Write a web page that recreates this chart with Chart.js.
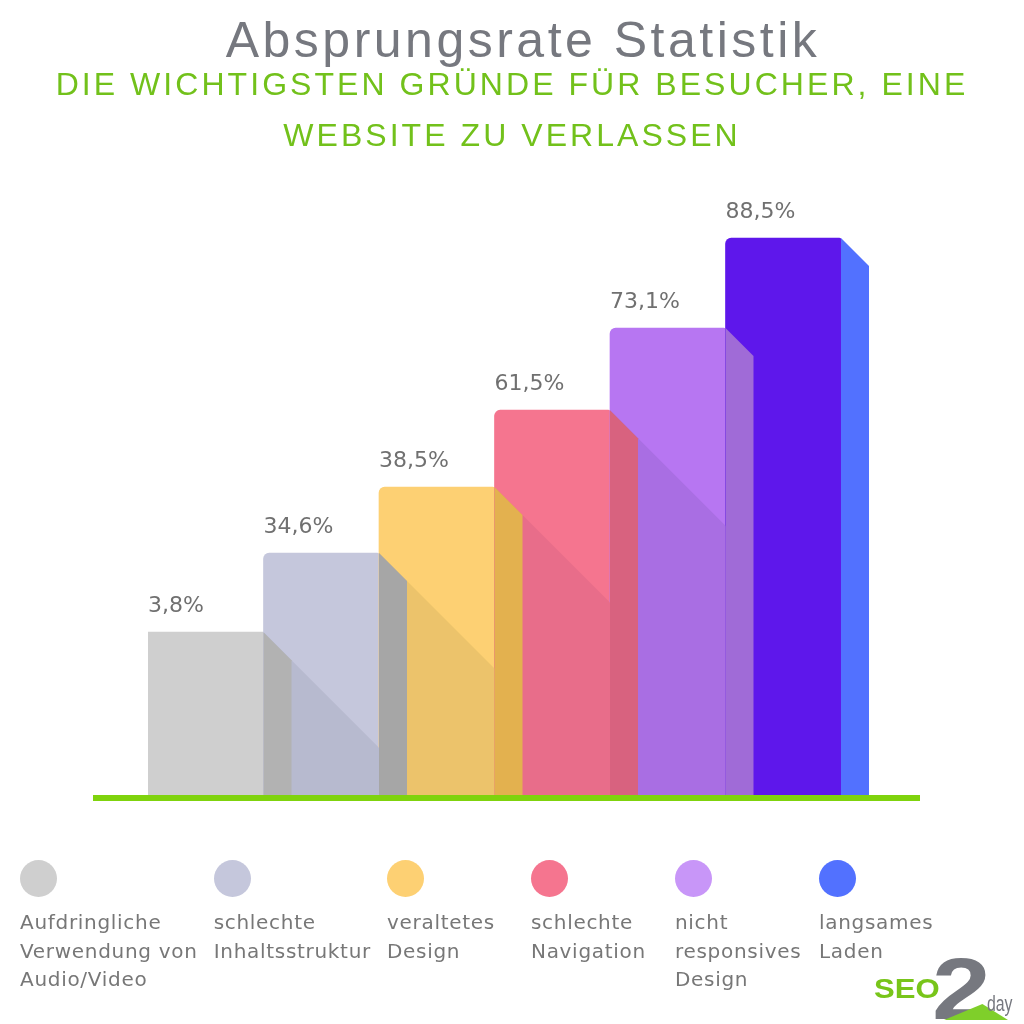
<!DOCTYPE html>
<html lang="de">
<head>
<meta charset="utf-8">
<title>Absprungsrate Statistik</title>
<script src="https://cdn.jsdelivr.net/npm/chart.js@4.4.1/dist/chart.umd.min.js"></script>
<style>
    html, body { margin: 0; padding: 0; background: #ffffff; }
    #page { position: relative; width: 1024px; height: 1024px; overflow: hidden; }
    #chart { position: absolute; left: 0; top: 0; }
    .title {
        position: absolute; left: 11px; top: 15px; width: 1024px; text-align: center;
        font-family: "Liberation Sans", Arial, sans-serif; font-size: 50px; line-height: 50px;
        letter-spacing: 3.5px; color: #76787f;
    }
    .subtitle {
        position: absolute; left: 0; top: 59px; width: 1024px; text-align: center;
        font-family: "Liberation Sans", Arial, sans-serif; font-size: 32px; line-height: 51px;
        letter-spacing: 3.05px; color: #72c11b;
    }
    #legend {
        position: absolute; left: 20px; top: 860px; display: flex;
        font-family: "DejaVu Sans", sans-serif; font-size: 20px; line-height: 28.5px;
        letter-spacing: 0.7px; color: #777777;
    }
    .legend-item { min-width: 144px; padding-right: 16px; box-sizing: border-box; }
    .legend-dot { width: 37px; height: 37px; border-radius: 50%; }
    .legend-text { margin-top: 11px; white-space: nowrap; }
    .logo { position: absolute; font-family: "Liberation Sans", Arial, sans-serif; font-weight: bold; }
    .logo-base {
        position: absolute; left: 944px; top: 1004px; width: 64px; height: 16px; background: #7fcf2a;
        clip-path: polygon(0 100%, 60% 0, 100% 100%);
    }
</style>
</head>
<body>
<div id="page">
    <canvas id="chart" width="1024" height="1024"></canvas>
    <div class="title">Absprungsrate Statistik</div>
    <div class="subtitle">DIE WICHTIGSTEN GRÜNDE FÜR BESUCHER, EINE<br>WEBSITE ZU VERLASSEN</div>
    <div id="legend"></div>
    <div class="logo" style="left:932px; top:938px; font-size:88px; color:#76787f; transform:scaleX(1.2); transform-origin:left;">2</div>
    <div class="logo-base"></div>
    <div class="logo" style="left:874px; top:974px; font-size:27px; color:#78c51a; font-weight:900; transform:scaleX(1.15); transform-origin:left;">SEO</div>
    <div class="logo" style="left:987px; top:991px; font-size:22px; color:#76787f; font-weight:normal; transform:scaleX(0.72); transform-origin:left;">day</div>
</div>

<script>
// Categories (legend lines as shown) and values
const categories = [
    ['Aufdringliche', 'Verwendung von', 'Audio/Video'],
    ['schlechte', 'Inhaltsstruktur'],
    ['veraltetes', 'Design'],
    ['schlechte', 'Navigation'],
    ['nicht', 'responsives', 'Design'],
    ['langsames', 'Laden']
];
const percentValues = [3.8, 34.6, 38.5, 61.5, 73.1, 88.5];
// The graphic does not draw bars to scale: heights (0-100 of plot height)
const barLevels = [27.3, 40.5, 51.5, 64.3, 78.0, 93.0];

// Colours
const frontColors = ['#cfcfcf', '#c5c7dc', '#fdd073', '#f5758f', '#b776f2', '#5e17eb'];
const shadowColors = [null, '#b7bacf', '#ecc36b', '#e86d8a', '#a96ee3', null];
const sideColors = ['#b2b2b2', '#a6a6a6', '#e3b14f', '#d8627f', '#a06bd7', '#5271ff'];
const legendColors = ['#cfcfcf', '#c5c7dc', '#fdd073', '#f5758f', '#c896f8', '#5271ff'];

const SIDE_DEPTH = 28;

// 3D look: shadow of the previous bar, side faces, value labels, ground line
const bar3dPlugin = {
    id: 'bar3d',
    afterDatasetsDraw(chart) {
        const ctx = chart.ctx;
        const bars = chart.getDatasetMeta(0).data;

        // shadows cast onto the front face by the bar in front
        bars.forEach((b, i) => {
            if (i === 0 || !shadowColors[i]) return;
            const left = b.x - b.width / 2;
            const t = bars[i - 1].y;
            ctx.save();
            ctx.beginPath();
            ctx.rect(left, b.y, b.width, b.base - b.y);
            ctx.clip();
            ctx.beginPath();
            ctx.moveTo(left, t);
            ctx.lineTo(left + (b.base - t), b.base);
            ctx.lineTo(left, b.base);
            ctx.closePath();
            ctx.fillStyle = shadowColors[i];
            ctx.fill();
            ctx.restore();
        });

        // side faces
        bars.forEach((b, i) => {
            const right = b.x + b.width / 2;
            ctx.beginPath();
            ctx.moveTo(right, b.y);
            ctx.lineTo(right + SIDE_DEPTH, b.y + SIDE_DEPTH);
            ctx.lineTo(right + SIDE_DEPTH, b.base);
            ctx.lineTo(right, b.base);
            ctx.closePath();
            ctx.fillStyle = sideColors[i];
            ctx.fill();
        });

        // value labels
        ctx.save();
        ctx.font = '22px "DejaVu Sans", sans-serif';
        ctx.fillStyle = '#707070';
        ctx.textAlign = 'left';
        ctx.textBaseline = 'alphabetic';
        bars.forEach((b, i) => {
            const label = percentValues[i].toFixed(1).replace('.', ',') + '%';
            ctx.fillText(label, b.x - b.width / 2, b.y - 20);
        });
        ctx.restore();

        // green ground line
        const { left, right } = chart.chartArea;
        const y0 = chart.scales.y.getPixelForValue(0);
        ctx.fillStyle = '#7fd30d';
        ctx.fillRect(left - 55, y0 - 1, right - left + 134, 6);
    }
};

const chart = new Chart(document.getElementById('chart'), {
    type: 'bar',
    data: {
        labels: categories,
        datasets: [{
            data: barLevels,
            backgroundColor: frontColors,
            borderWidth: 0,
            borderRadius: (c) => c.dataIndex === 0 ? 0 : { topLeft: 6, topRight: 2, bottomLeft: 0, bottomRight: 0 },
            borderSkipped: false,
            barPercentage: 1,
            categoryPercentage: 1
        }]
    },
    options: {
        responsive: false,
        animation: false,
        layout: { padding: { left: 148, right: 183, top: 196, bottom: 228 } },
        scales: {
            x: { display: false },
            y: { display: false, min: 0, max: 100 }
        },
        plugins: {
            legend: { display: false },
            title: { display: false },
            tooltip: { enabled: false }
        }
    },
    plugins: [bar3dPlugin]
});

// Legend: dot above multi-line label
const legendEl = document.getElementById('legend');
categories.forEach((lines, i) => {
    const item = document.createElement('div');
    item.className = 'legend-item';
    item.innerHTML = `
        <div class="legend-dot" style="background:${legendColors[i]}"></div>
        <div class="legend-text">${lines.join('<br>')}</div>
    `;
    legendEl.appendChild(item);
});
</script>
</body>
</html>
